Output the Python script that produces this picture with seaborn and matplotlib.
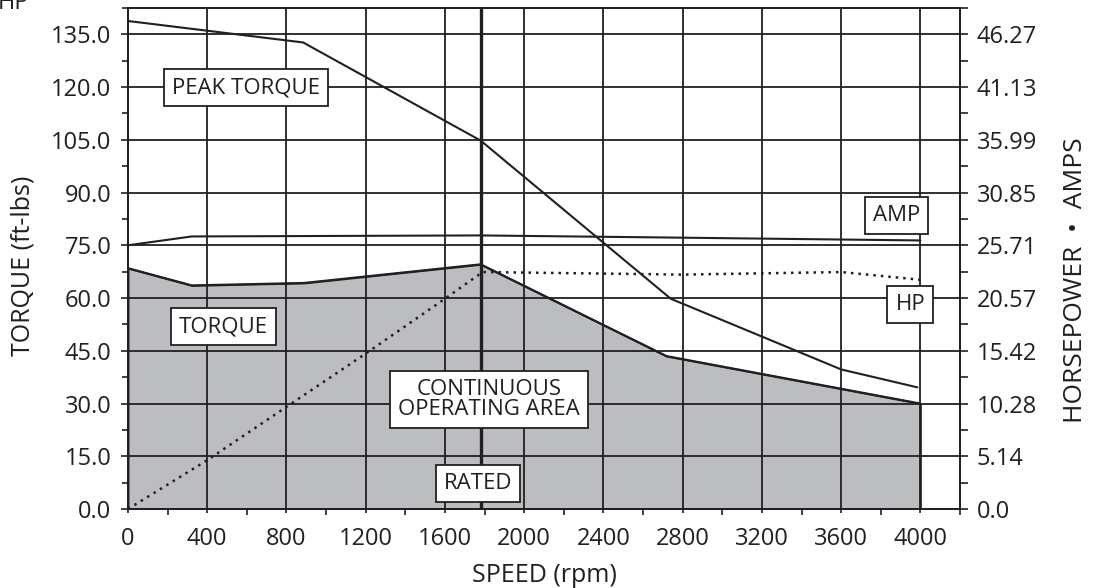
import matplotlib
matplotlib.use('Agg')
import matplotlib.pyplot as plt
import seaborn as sns
from matplotlib.ticker import FixedLocator, MultipleLocator

# values
speed_peak = [0, 884, 1780, 2740, 3600, 3985]
peak_torque = [138.8, 132.7, 104.8, 59.8, 39.7, 34.6]

speed_rated = [0, 322, 889, 1780, 2718, 4000]
rated_torque = [68.5, 63.6, 64.3, 69.6, 43.5, 30.0]

speed_amp = [0, 322, 1780, 2800, 4000]
amps = [25.71, 26.57, 26.67, 26.45, 26.18]

speed_hp = [0, 400, 800, 1200, 1600, 1790, 2800, 3600, 4000]
horsepower = [0.0, 4.76, 9.96, 15.15, 20.50, 23.10, 22.85, 23.10, 22.35]

torque_ticks = [0, 15, 30, 45, 60, 75, 90, 105, 120, 135]
torque_labels = ['0.0', '15.0', '30.0', '45.0', '60.0', '75.0', '90.0', '105.0', '120.0', '135.0']
hp_labels = ['0.0', '5.14', '10.28', '15.42', '20.57', '25.71', '30.85', '35.99', '41.13', '46.27']
speed_ticks = [0, 400, 800, 1200, 1600, 2000, 2400, 2800, 3200, 3600, 4000]
rated_speed = 1780

sns.set_style('white')
plt.rcParams['font.family'] = ['Open Sans', 'DejaVu Sans']

ink = '#231f20'
fill_gray = '#bcbdc0'

fig = plt.figure(figsize=(10.96, 5.88), dpi=100)
ax = fig.add_axes([128 / 1096, 1 - 509 / 588, 832 / 1096, 501 / 588])
ax2 = ax.twinx()

# scale between the two y axes (135 ft-lbs <-> 46.27 on the right)
scale = 46.27 / 135

# continuous operating area
ax.fill_between(speed_rated, rated_torque, 0, color=fill_gray, edgecolor=ink,
                linewidth=1.4, zorder=1)
sns.lineplot(x=speed_peak, y=peak_torque, ax=ax, color=ink, linewidth=1.5, zorder=3)
sns.lineplot(x=speed_rated, y=rated_torque, ax=ax, color=ink, linewidth=1.5, zorder=3)
ax.axvline(rated_speed, color=ink, linewidth=2.4, zorder=3)

sns.lineplot(x=speed_amp, y=amps, ax=ax2, color=ink, linewidth=1.5)
sns.lineplot(x=speed_hp, y=horsepower, ax=ax2, color=ink, linewidth=1.8,
             linestyle=(0, (1, 2)))

ax.set_xlim(0, 4200)
ax.set_ylim(0, 142.5)
ax2.set_ylim(0, 142.5 * scale)

ax.xaxis.set_major_locator(FixedLocator(speed_ticks))
ax.xaxis.set_minor_locator(MultipleLocator(200))
ax.yaxis.set_major_locator(FixedLocator(torque_ticks))
ax.yaxis.set_minor_locator(MultipleLocator(7.5))
ax.set_yticklabels(torque_labels)

ax2.yaxis.set_major_locator(FixedLocator([t * scale for t in torque_ticks]))
ax2.yaxis.set_minor_locator(FixedLocator([(t + 7.5) * scale for t in torque_ticks]))
ax2.set_yticklabels(hp_labels)

ax.grid(True, which='major', color=ink, linewidth=1.3)
ax.set_axisbelow(False)

for a in (ax, ax2):
    for s in a.spines.values():
        s.set_color(ink)
        s.set_linewidth(1.3)

ax.tick_params(axis='y', which='major', direction='out', length=5, width=1.2,
               color=ink, labelsize=17, labelcolor=ink, pad=7, left=True)
ax.tick_params(axis='y', which='minor', direction='out', length=4.5, width=1.2,
               color=ink, left=True)
ax.tick_params(axis='x', which='major', direction='out', length=3, width=1.2,
               color=ink, labelsize=17, labelcolor=ink, pad=10, bottom=True)
ax.tick_params(axis='x', which='minor', direction='out', length=4.5, width=1.2,
               color=ink, bottom=True)
ax2.tick_params(axis='y', which='major', direction='out', length=6, width=1.2,
                color=ink, labelsize=17, labelcolor=ink, pad=6, right=True)
ax2.tick_params(axis='y', which='minor', direction='out', length=6, width=1.2,
                color=ink, right=True)

ax.set_xlabel('SPEED (rpm)', fontsize=18, color=ink, va='center')
ax.xaxis.set_label_coords(0.5, -0.132)
ax.set_ylabel('TORQUE (ft-lbs)', fontsize=18, color=ink, va='center')
ax.yaxis.set_label_coords(-0.126, 0.485)
ax2.set_ylabel('HORSEPOWER  •  AMPS', fontsize=19, color=ink, va='center', rotation=90)
ax2.yaxis.set_label_coords(1.139, 0.457)

fig.text(-0.002, 1 - 9 / 588, 'HP', fontsize=17, color=ink, va='baseline', ha='left')

box = dict(boxstyle='square,pad=0.36', facecolor='white', edgecolor=ink, linewidth=1.3)
labels = [
    ('PEAK TORQUE', 598, 119.8),
    ('AMP', 3879, 83.6),
    ('HP', 3949, 58.1),
    ('TORQUE', 483, 51.8),
    ('CONTINUOUS\nOPERATING AREA', 1821, 31.2),
    ('RATED', 1768, 7.2),
]
for text, xv, yv in labels:
    ax2.text(xv, yv * scale, text, fontsize=16, color=ink, ha='center', va='center',
             bbox=box, zorder=6, linespacing=0.95)

fig.savefig('out.png', dpi=100)
